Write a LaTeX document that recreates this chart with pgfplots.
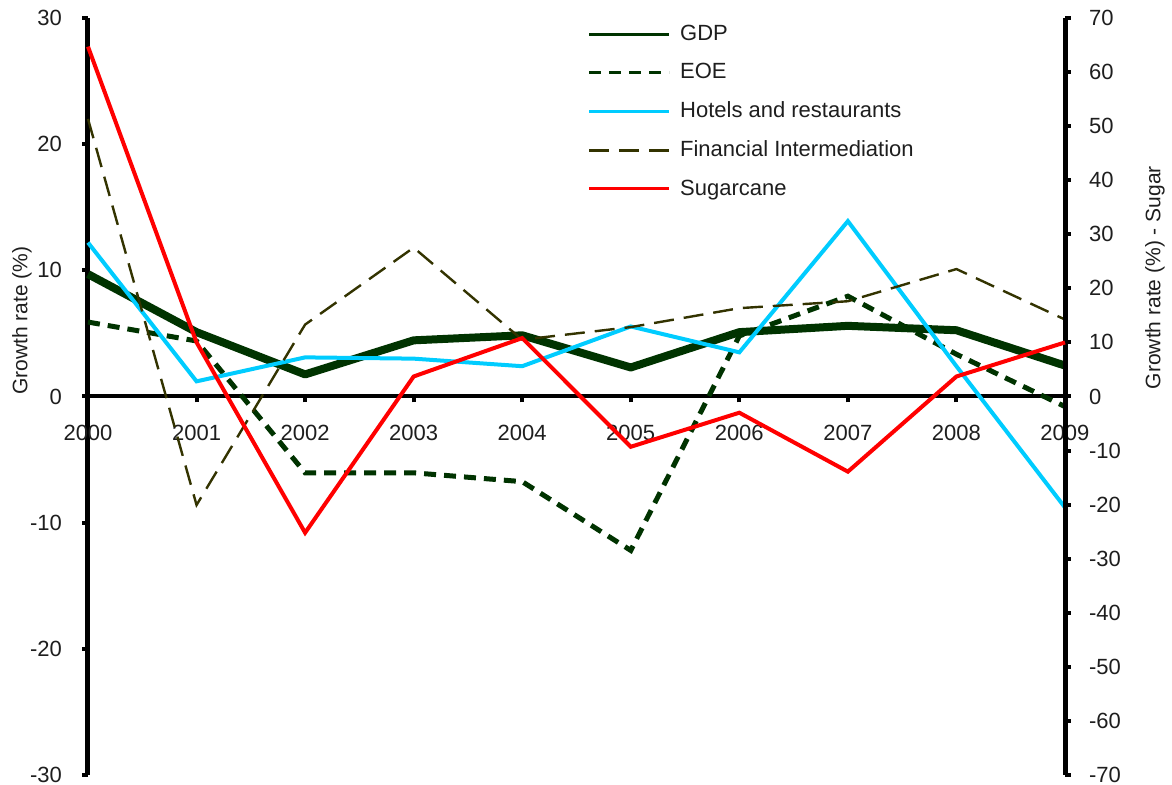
\documentclass[border=0pt]{standalone}
\usepackage{fontspec}
\setmainfont{Liberation Sans}
\usepackage{pgfplots}
\pgfplotsset{compat=1.18}
\definecolor{dkgreen}{RGB}{0,51,0}
\definecolor{cyanline}{RGB}{0,204,255}
\definecolor{olive2}{RGB}{51,51,0}
\definecolor{txt}{RGB}{30,30,30}
\pgfplotsset{
 gdp/.style={dkgreen, line width=4pt, line join=round},
 eoe/.style={dkgreen, line width=2.5pt, dash pattern=on 6pt off 4pt},
 hot/.style={cyanline, line width=2pt, line join=miter},
 fin/.style={olive2, line width=1.2pt, dash pattern=on 10pt off 5pt},
 sug/.style={red, line width=2pt},
 base/.style={scale only axis, width=488.5pt, height=378.5pt,
   xmin=2000, xmax=2009, at={(44pt,5pt)}, anchor=south west,
   tick align=outside, major tick length=3pt,
   tick style={black, line width=2pt},
   axis line style={black, line width=2.5pt, -},
   every tick label/.append style={text=txt, font=\fontsize{11}{13}\selectfont},
   label style={font=\fontsize{10.5}{12}\selectfont},
   /pgf/number format/assume math mode=true, clip=false}
}
\begin{document}
\begin{tikzpicture}
\path[use as bounding box] (0,0) rectangle (586pt,392.5pt);
\begin{axis}[base,
 axis y line*=left, axis x line*=middle,
 ymin=-30, ymax=30, ytick={-30,-20,...,30},
 xtick={2000,...,2009},
 xticklabel style={/pgf/number format/1000 sep=, yshift=-8pt},
 yticklabel style={xshift=-6.5pt},
 hide obscured x ticks=false, hide obscured y ticks=false,
 x axis line style={line width=2pt},
 ylabel={Growth rate (\%)},
 ylabel style={at={(axis description cs:-0.0676,0.60)}, anchor=center, text=txt},
]
\addplot[gdp] coordinates {(2000,9.7) (2001,5.1) (2002,1.75) (2003,4.45) (2004,4.85) (2005,2.3) (2006,5.1) (2007,5.6) (2008,5.25) (2009,2.45)};
\addplot[eoe] coordinates {(2000,5.9) (2001,4.4) (2002,-6.05) (2003,-6.05) (2004,-6.75) (2005,-12.2) (2006,4.8) (2007,7.95) (2008,3.35) (2009,-0.8)};
\addplot[hot] coordinates {(2000,12.2) (2001,1.2) (2002,3.1) (2003,3.0) (2004,2.4) (2005,5.55) (2006,3.5) (2007,13.9) (2008,2.4) (2009,-8.8)};
\addplot[fin] coordinates {(2000,22.0) (2001,-8.6) (2002,5.7) (2003,11.8) (2004,4.5) (2005,5.5) (2006,7.0) (2007,7.55) (2008,10.1) (2009,6.1)};
\end{axis}
\begin{axis}[base,
 axis y line*=right, axis x line=none,
 ymin=-70, ymax=70, ytick={-70,-60,...,70},
 yticklabel style={xshift=5.5pt},
 ylabel={Growth rate (\%) - Sugar},
 ylabel style={at={(axis description cs:1.092,0.657)}, anchor=center, text=txt},
 legend style={at={(axis description cs:0.51,0.995)}, anchor=north west,
   xshift=-2.5pt, yshift=2.5pt,
   draw=none, fill=none, font=\fontsize{11}{13}\selectfont, text=txt,
   row sep=6pt, cells={anchor=west}},
 legend image code/.code={\draw[#1, line width=1.5pt] (0pt,0pt) -- (40pt,0pt); \path (41.5pt,0pt);},
]
\addlegendimage{gdp}\addlegendentry{GDP}
\addlegendimage{eoe}\addlegendentry{EOE}
\addlegendimage{hot}\addlegendentry{Hotels and restaurants}
\addlegendimage{fin}\addlegendentry{Financial Intermediation}
\addplot[sug] coordinates {(2000,64.7) (2001,10.0) (2002,-25.2) (2003,3.7) (2004,10.8) (2005,-9.3) (2006,-3.0) (2007,-13.9) (2008,3.7) (2009,10.0)};
\addlegendentry{Sugarcane}
\end{axis}
\end{tikzpicture}
\end{document}
